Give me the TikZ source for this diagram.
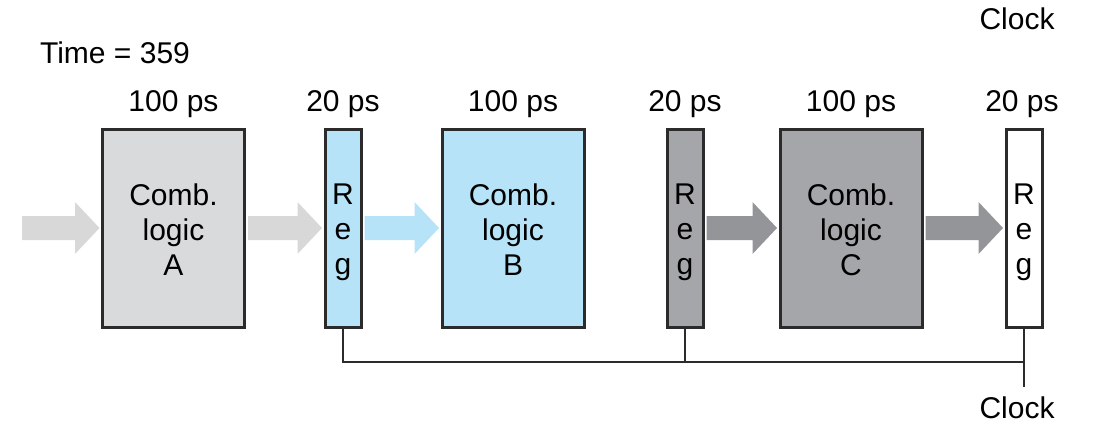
\documentclass[tikz,border=0pt]{standalone}
\usepackage{fontspec}
\setmainfont{Liberation Sans}
\usetikzlibrary{calc}
\definecolor{lgray}{HTML}{D9DADC}
\definecolor{lblue}{HTML}{B6E3F8}
\definecolor{mgray}{HTML}{A5A6A9}
\definecolor{agray}{HTML}{D8D8D9}
\definecolor{ablue}{HTML}{B6E3F8}
\definecolor{adark}{HTML}{949598}
\definecolor{edge}{HTML}{2B2B2B}
\newcommand{\blockarrow}[3]{%
  \fill[#3] let \p1=(#1), \p2=(#2) in
    (\x1+2pt,\y2+12pt) -- (\x2-26pt,\y2+12pt) -- (\x2-26pt,\y2+26pt) --
    (\x2-1.5pt,\y2) -- (\x2-26pt,\y2-26pt) -- (\x2-26pt,\y2-12pt) --
    (\x1+2pt,\y2-12pt) -- cycle;}
\begin{document}
\begin{tikzpicture}[x=1pt,y=-1pt,
  font=\fontsize{30}{35}\selectfont,
  comb/.style={draw=edge,line width=3pt,minimum width=142pt,minimum height=198pt,
    inner sep=0pt,align=center,anchor=center},
  reg/.style={draw=edge,line width=3pt,minimum width=36pt,minimum height=198pt,
    inner sep=0pt,align=center,anchor=center},
  lbl/.style={inner sep=0pt,anchor=center},
  wire/.style={draw=edge,line width=2.5pt}]
\useasboundingbox (0,0) rectangle (1097,426);
% boxes
\node[comb,fill=lgray] (A) at (173.5,228) {};
\node[reg,fill=lblue] (R1) at (343,228) {};
\node[comb,fill=lblue] (B) at (513,228) {};
\node[reg,fill=mgray] (R2) at (685,228) {};
\node[comb,fill=mgray] (C) at (851,228) {};
\node[reg,fill=white] (R3) at (1024,228) {};
% box texts
\node[lbl,align=center] (tA) at (173.5,230) {Comb.\\logic\\A};
\node[lbl,align=center] (tB) at (513,230) {Comb.\\logic\\B};
\node[lbl,align=center] (tC) at (851,230) {Comb.\\logic\\C};
\node[lbl,align=center] (t1) at (343,232) {R\\e\\g};
\node[lbl,align=center] (t2) at (685,232) {R\\e\\g};
\node[lbl,align=center] (t3) at (1024,232) {R\\e\\g};
% delay labels
\node[lbl] (dA) at (173.5,104) {100 ps};
\node[lbl] (d1) at (343,104) {20 ps};
\node[lbl] (dB) at (513,104) {100 ps};
\node[lbl] (d2) at (685,104) {20 ps};
\node[lbl] (dC) at (851,104) {100 ps};
\node[lbl] (d3) at (1022,104) {20 ps};
\node[lbl] (time) at (115,53) {Time = 359};
\node[lbl] (clktop) at (1017,19) {Clock};
% block arrows
\coordinate (in) at (20,228);
\blockarrow{in}{A.west}{agray}
\blockarrow{A.east}{R1.west}{agray}
\blockarrow{R1.east}{B.west}{ablue}
\blockarrow{R2.east}{C.west}{adark}
\blockarrow{C.east}{R3.west}{adark}
% clock wiring
\coordinate (busR) at (1024,362);
\coordinate (clkend) at (1024,387);
\draw[wire] (R1.south) |- (busR);
\draw[wire] (R2.south) -- (R2.south |- busR);
\draw[wire] (R3.south) -- (clkend);
\node[lbl] (clkbot) at (1017,408) {Clock};
\end{tikzpicture}
\end{document}
